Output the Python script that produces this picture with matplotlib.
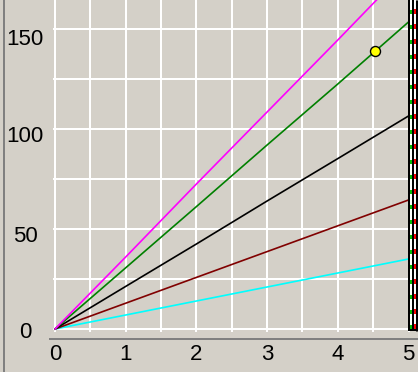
import numpy as np
import matplotlib
matplotlib.use("Agg")
import matplotlib.pyplot as plt
from matplotlib.transforms import offset_copy, ScaledTranslation
from matplotlib.lines import Line2D

plt.rcParams['lines.scale_dashes'] = False

# ---- data ----
x_vals = [0, 1, 2, 3, 4, 5]
magenta_vals = [0, 36.0, 72.5, 108.5, 144.5, 181.0]
green_vals = [0, 30.6, 61.2, 92.0, 122.5, 153.5]
black_vals = [0, 21.3, 42.5, 64.0, 85.2, 106.5]
darkred_vals = [0, 12.9, 25.8, 38.7, 51.6, 64.5]
cyan_vals = [0, 7.0, 14.0, 21.0, 28.0, 35.0]
point_x = [4.53]
point_y = [139.0]
x_ticks = [0, 1, 2, 3, 4, 5]
y_ticks = [0, 50, 100, 150]
marker_x = 5

BG = '#D4D0C8'
W, H = 418, 372
fig = plt.figure(figsize=(W / 100, H / 100), dpi=100)
fig.patch.set_facecolor(BG)

ax = fig.add_axes([53 / W, 40 / H, 365 / W, 332 / H])
ax.set_facecolor(BG)
for s in ax.spines.values():
    s.set_visible(False)

ax.set_xlim(-2 / 70.7, 363 / 70.7)
ax.set_ylim(-1.5, 164.5)

ax.set_xticks(x_ticks)
ax.set_xticks(np.arange(0.5, 5, 1.0), minor=True)
ax.set_yticks(y_ticks)
ax.set_yticks([25, 75, 125], minor=True)
ax.set_xticklabels([str(v) for v in x_ticks])
ax.set_yticklabels([str(v) for v in y_ticks])
ax.grid(True, which='both', color='white', linewidth=1.44, zorder=0)
ax.set_axisbelow(True)
ax.tick_params(which='both', length=0)
ax.tick_params(axis='x', pad=9)
ax.tick_params(axis='y', pad=20.2)
for lab in ax.get_xticklabels() + ax.get_yticklabels():
    lab.set_fontfamily('Liberation Sans')
    lab.set_fontsize(16)
    lab.set_color('black')
yoffs = [1, 5, 4.5, 8]
for lab, dy in zip(ax.get_yticklabels(), yoffs):
    lab.set_ha('center')
    lab.set_transform(lab.get_transform() + ScaledTranslation(0, -dy / 100, fig.dpi_scale_trans))

lw = 1.2
ax.plot(x_vals, cyan_vals, color='#00FFFF', lw=lw, zorder=3)
ax.plot(x_vals, darkred_vals, color='#800000', lw=lw, zorder=3)
ax.plot(x_vals, black_vals, color='black', lw=lw, zorder=3)
ax.plot(x_vals, green_vals, color='#008000', lw=lw, zorder=3)
ax.plot(x_vals, magenta_vals, color='#FF00FF', lw=lw, zorder=3)
ax.plot(point_x, point_y, 'o', color='#FFFF00', markeredgecolor='black',
        markersize=7.2, markeredgewidth=1.0, zorder=5)

# right-hand marker block at x = 5
xt = ax.get_xaxis_transform()
def vline(dx, color, lwp=1.44, ymin=0.0, **kw):
    tr = offset_copy(xt, fig=fig, x=dx, units='dots')
    ax.add_line(Line2D([marker_x, marker_x], [ymin, 1.0], transform=tr, color=color,
                       lw=lwp, clip_on=False, zorder=6, solid_capstyle='butt', **kw))

y0 = (0 - (-1.5)) / 166.0
vline(0, 'black', ymin=y0 - 0.006)
vline(2, 'white', ymin=y0)
vline(2, '#00C000', ymin=y0, dashes=(2.9, 7.9))
vline(4, 'black', ymin=y0)
vline(6, 'white', ymin=y0)
vline(6, '#FF0000', ymin=y0, dashes=(3.6, 7.2))
vline(8, 'black', lwp=2.2, ymin=y0 - 0.006)
tr0 = offset_copy(ax.transData, fig=fig, x=0, y=0, units='dots')
ax.add_line(Line2D([marker_x, 6.0], [-0.5, -0.5], transform=tr0, color='black', lw=1.44,
                   clip_on=True, zorder=6))

# window decorations
fig.add_artist(Line2D([4 / W, 4 / W], [0, 1], transform=fig.transFigure, color='#808080', lw=1.44))
fig.add_artist(Line2D([50 / W, 1], [1 - 338.5 / H, 1 - 338.5 / H], transform=fig.transFigure,
                      color='#808080', lw=1.44))

fig.savefig('out.png', dpi=100, facecolor=BG)
